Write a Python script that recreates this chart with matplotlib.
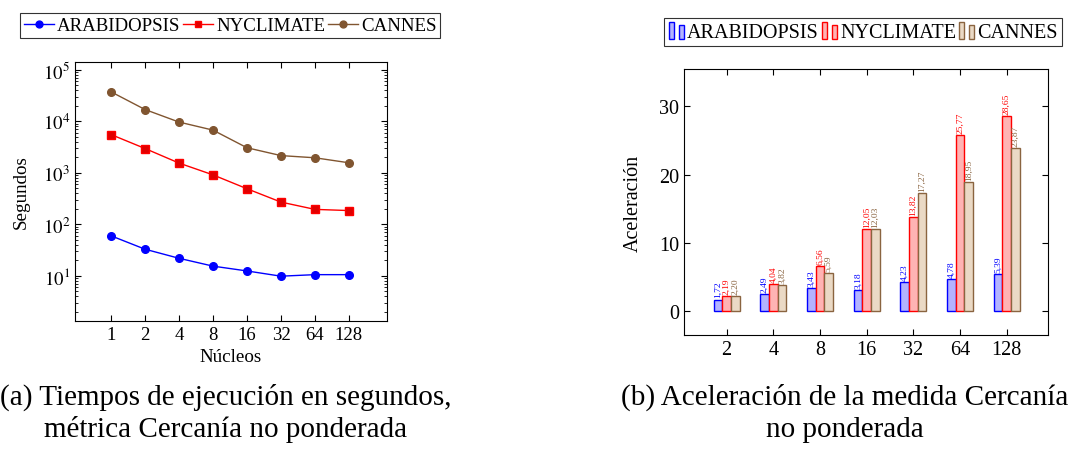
import numpy as np
import matplotlib
matplotlib.use("Agg")
import matplotlib.pyplot as plt
from matplotlib.patches import Rectangle
from matplotlib.legend_handler import HandlerBase
from matplotlib.ticker import FixedLocator, LogLocator, NullFormatter

plt.rcParams['font.family'] = ['Liberation Serif', 'DejaVu Serif']
plt.rcParams['mathtext.fontset'] = 'stix'

# ---------------------------------------------------------
# Data
# ---------------------------------------------------------
cores_time = [1, 2, 4, 8, 16, 32, 64, 128]
arabidopsis_time = [60, 33, 22, 15.5, 12.5, 9.9, 10.6, 10.6]
nyclimate_time = [5500, 2950, 1540, 910, 490, 270, 195, 185]
cannes_time = [37000, 16800, 9600, 6700, 3050, 2150, 1950, 1560]

cores_speed = ["2", "4", "8", "16", "32", "64", "128"]
arabidopsis_speed = [1.72, 2.49, 3.43, 3.18, 4.23, 4.78, 5.39]
nyclimate_speed = [2.19, 4.04, 6.56, 12.05, 13.82, 25.77, 28.65]
cannes_speed = [2.20, 3.82, 5.59, 12.03, 17.27, 18.95, 23.87]

series_names = ["ARABIDOPSIS", "NYCLIMATE", "CANNES"]

BLUE = "#0000ff"
RED = "#ff0000"
BROWN = "#805530"
fills = ["#b3b3ff", "#ffb3b3", "#ead9c5"]
edges = [BLUE, RED, "#8a6440"]

fig = plt.figure(figsize=(10.7, 4.64), dpi=100)

# ---------------------------------------------------------
# (a) execution time, log scale
# ---------------------------------------------------------
ax1 = fig.add_axes([75/1070, 1-322/464, 312/1070, 259/464])
xpos = np.log2(cores_time)
ax1.plot(xpos, arabidopsis_time, '-o', color=BLUE, lw=1, ms=5.5, label=series_names[0])
ax1.plot(xpos, nyclimate_time, '-s', color=RED, mfc="#e00000", mec=RED, lw=1, ms=5.5, label=series_names[1])
ax1.plot(xpos, cannes_time, '-o', color=BROWN, lw=1, ms=5.5, label=series_names[2])
ax1.set_yscale('log')
ax1.set_xlim(-1.06, 8.12)
ax1.set_ylim(1.34, 1.4e5)
ax1.set_xticks(xpos)
ax1.set_xticklabels([str(c) for c in cores_time])
ax1.yaxis.set_major_locator(FixedLocator([1e1, 1e2, 1e3, 1e4, 1e5]))
ax1.set_yticklabels([r'$10^{%d}$' % e for e in range(1, 6)])
ax1.yaxis.set_minor_locator(LogLocator(base=10, subs=np.arange(2, 10)))
ax1.yaxis.set_minor_formatter(NullFormatter())
ax1.tick_params(which='both', direction='in', top=True, right=True, labelsize=13.5)
ax1.tick_params(which='major', length=4)
ax1.tick_params(which='minor', length=2)
ax1.set_xlabel("Núcleos", fontsize=13.7, labelpad=4)
ax1.set_ylabel("Segundos", fontsize=13.7, labelpad=9)

leg1 = fig.legend(handles=ax1.get_lines(), loc='center', bbox_to_anchor=(230/1070, 1-26.5/464),
                  ncol=3, fontsize=13.6, frameon=True, fancybox=False, edgecolor='black',
                  handlelength=1.6, handletextpad=0.15, columnspacing=0.15, borderpad=0.2,
                  markerscale=0.9)
leg1.get_frame().set_linewidth(0.8)

# ---------------------------------------------------------
# (b) speedup, grouped bars
# ---------------------------------------------------------
ax2 = fig.add_axes([684/1070, 1-336/464, 364/1070, 266/464])
x = np.arange(len(cores_speed))
w = 0.186
speed_series = [arabidopsis_speed, nyclimate_speed, cannes_speed]
bar_containers = []
for i, vals in enumerate(speed_series):
    bc = ax2.bar(x + (i - 1) * w, vals, width=w, color=fills[i], edgecolor=edges[i],
                 linewidth=1, label=series_names[i])
    bar_containers.append(bc)
    for xi, v in zip(x + (i - 1) * w, vals):
        ax2.text(xi, v + 0.3, f"{v:.2f}".replace('.', ','), rotation=90,
                 ha='center', va='bottom', fontsize=6.8, color=edges[i])

ax2.set_xlim(-0.914, 6.885)
ax2.set_ylim(-3.47, 35.47)
ax2.set_xticks(x)
ax2.set_xticklabels(cores_speed)
ax2.set_yticks([0, 10, 20, 30])
ax2.tick_params(direction='in', top=True, right=True, labelsize=14.5, length=4)
ax2.set_ylabel("Aceleración", fontsize=14.5, labelpad=12)


class TwoBars(HandlerBase):
    def create_artists(self, legend, orig_handle, xdescent, ydescent,
                       width, height, fontsize, trans):
        fc = orig_handle.get_facecolor()
        ec = orig_handle.get_edgecolor()
        bw = width * 0.28
        r1 = Rectangle((-xdescent + width * 0.05, -ydescent - 0.15 * height), bw, height * 1.2,
                       facecolor=fc, edgecolor=ec, lw=1, transform=trans)
        r2 = Rectangle((-xdescent + width * 0.6, -ydescent - 0.15 * height), bw, height * 1.0,
                       facecolor=fc, edgecolor=ec, lw=1, transform=trans)
        return [r1, r2]


handles = [bc.patches[0] for bc in bar_containers]
leg2 = fig.legend(handles=handles, labels=series_names, loc='center',
                  bbox_to_anchor=(863/1070, 1-33/464), ncol=3, fontsize=14.5,
                  frameon=True, fancybox=False, edgecolor='black',
                  handler_map={h: TwoBars() for h in handles},
                  handlelength=0.9, handletextpad=0.05, columnspacing=0.1, borderpad=0.2)
leg2.get_frame().set_linewidth(0.8)

# ---------------------------------------------------------
# Captions
# ---------------------------------------------------------
fig.text(226/1070, 1-397/464, "(a) Tiempos de ejecución en segundos,", ha='center', va='center', fontsize=21)
fig.text(226/1070, 1-430/464, "métrica Cercanía no ponderada", ha='center', va='center', fontsize=21)
fig.text(845/1070, 1-397/464, "(b) Aceleración de la medida Cercanía", ha='center', va='center', fontsize=21)
fig.text(845/1070, 1-430/464, "no ponderada", ha='center', va='center', fontsize=21)

fig.savefig("out.png", dpi=100)
